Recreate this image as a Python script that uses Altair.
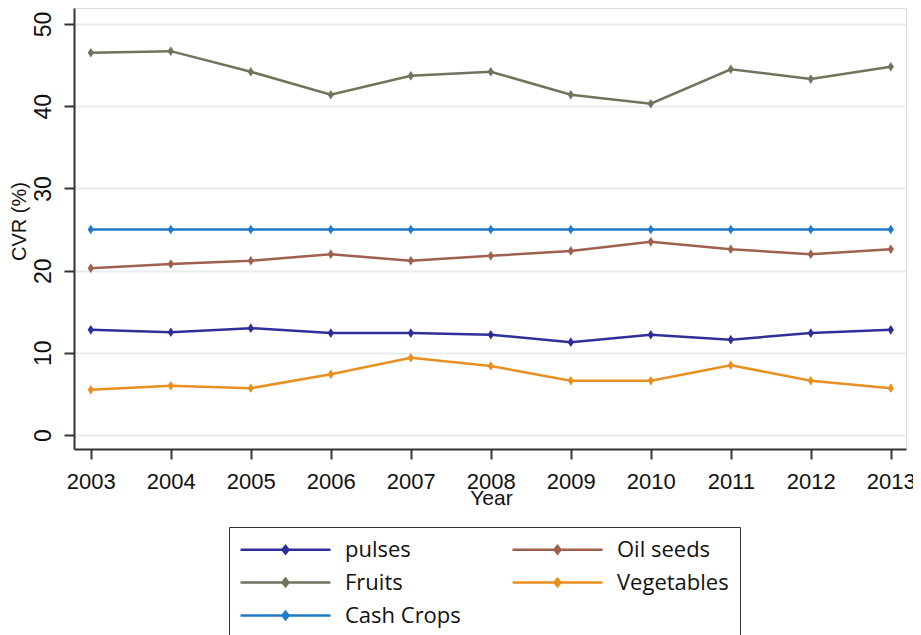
import altair as alt
import pandas as pd

years = list(range(2003, 2014))
pulses = [12.8, 12.5, 13.0, 12.4, 12.4, 12.2, 11.3, 12.2, 11.6, 12.4, 12.8]
oil_seeds = [20.3, 20.8, 21.2, 22.0, 21.2, 21.8, 22.4, 23.5, 22.6, 22.0, 22.6]
fruits = [46.5, 46.7, 44.2, 41.4, 43.7, 44.2, 41.4, 40.3, 44.5, 43.3, 44.8]
vegetables = [5.5, 6.0, 5.7, 7.4, 9.4, 8.4, 6.6, 6.6, 8.5, 6.6, 5.7]
cash_crops = [25.0] * 11

series_names = ["pulses", "Oil seeds", "Fruits", "Vegetables", "Cash Crops"]
series_colors = ["#2e2f98", "#a0604f", "#6d755c", "#e88f22", "#1f7ac8"]
y_ticks = [0, 10, 20, 30, 40, 50]

rows = []
for name, vals in zip(series_names, [pulses, oil_seeds, fruits, vegetables, cash_crops]):
    for yr, v in zip(years, vals):
        rows.append({"Year": yr, "CVR": v, "Series": name})
df = pd.DataFrame(rows)

font = "Liberation Sans, Arial"

color = alt.Color(
    "Series:N",
    scale=alt.Scale(domain=series_names, range=series_colors),
    legend=alt.Legend(
        title=None,
        orient="none",
        legendX=155,
        legendY=519,
        columns=2,
        direction="horizontal",
        symbolType="M-1.1,0H7.9M3.4,-0.38L3.7,0L3.4,0.38L3.1,0Z",
        symbolSize=400,
        symbolStrokeWidth=2.5,
        labelFont="Open Sans, Liberation Sans, Arial",
        labelFontSize=22,
        labelColor="#111111",
        labelOffset=82,
        labelLimit=300,
        columnPadding=46,
        rowPadding=10,
        padding=11,
        strokeColor="#333333",
        fillColor="white",
    ),
)

x = alt.X(
    "Year:Q",
    scale=alt.Scale(domain=[2002.79, 2013.19], nice=False, zero=False),
    axis=alt.Axis(
        values=years,
        format="d",
        grid=False,
        title="Year",
        titleFont=font,
        titleFontSize=21,
        titleFontWeight="normal",
        titleColor="#111111",
        titleX=417,
        titleY=55,
        titleBaseline="alphabetic",
        labelFont=font,
        labelFontSize=22,
        labelColor="#111111",
        labelPadding=12,
        tickSize=10,
        tickColor="#333333",
        tickWidth=2,
        domainColor="#333333",
        domainWidth=2,
        labelOverlap=False,
    ),
)

y = alt.Y(
    "CVR:Q",
    scale=alt.Scale(domain=[-1.7, 51.95], nice=False, zero=False),
    axis=alt.Axis(
        values=y_ticks,
        grid=True,
        gridColor="#e8ecef",
        gridWidth=2,
        title="CVR (%)",
        titleFont=font,
        titleFontSize=20,
        titleFontWeight="normal",
        titleColor="#111111",
        titleAngle=270,
        titleAlign="center",
        titleBaseline="alphabetic",
        titleX=-49,
        titleY=213,
        labelFont=font,
        labelFontSize=23,
        labelColor="#111111",
        labelAngle=270,
        labelAlign="center",
        labelBaseline="alphabetic",
        labelPadding=14,
        tickSize=10,
        tickColor="#333333",
        tickWidth=2,
        domainColor="#333333",
        domainWidth=2,
    ),
)

lines = alt.Chart(df).mark_line(strokeWidth=2.5).encode(x=x, y=y, color=color)
points = alt.Chart(df).mark_point(
    shape="M0,-1.3L0.85,0L0,1.3L-0.85,0Z", filled=True, size=55, opacity=1
).encode(x=x, y=y, color=color)

chart = (
    alt.layer(lines, points)
    .properties(
        width=832,
        height=441,
        autosize=alt.AutoSizeParams(type="none"),
        padding={"left": 66, "top": 0, "right": 7, "bottom": 190},
    )
    .configure_view(stroke=None)
    .configure(background="white")
)

chart.save("out.html", embed_options={"renderer": "svg", "actions": False})
